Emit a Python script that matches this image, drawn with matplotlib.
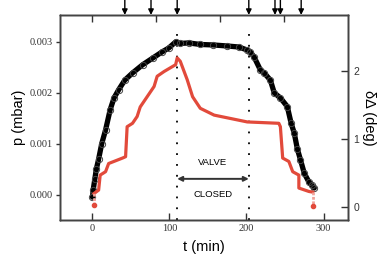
import matplotlib
matplotlib.use("Agg")
import matplotlib.pyplot as plt

# ---- data ----
t_black = [0, 1, 3, 5, 8, 12, 17, 23, 28, 34, 42, 52, 65, 78, 90, 99, 108, 114, 125,
           140, 157, 175, 190, 201, 205, 210, 218, 223, 231, 236, 244, 253, 258, 262,
           266, 270, 275, 281, 285, 288]
p_black = [-0.00005, 0.0001, 0.0003, 0.0005, 0.0007, 0.001, 0.00127, 0.00167, 0.0019,
           0.00206, 0.00225, 0.00239, 0.00255, 0.00268, 0.0028, 0.00288, 0.003, 0.00297,
           0.00298, 0.00295, 0.00294, 0.00292, 0.0029, 0.00284, 0.0028, 0.0027, 0.00245,
           0.00239, 0.00225, 0.002, 0.0019, 0.00173, 0.0014, 0.00121, 0.0009, 0.00069,
           0.00042, 0.00025, 0.00018, 0.00013]

t_red = [2, 8, 10, 17, 21, 39, 43, 45, 52, 58, 62, 71, 80, 84, 93, 108, 110, 114, 123,
         130, 140, 158, 201, 242, 244, 247, 255, 260, 268, 268, 281, 286]
d_red = [0.20, 0.25, 0.47, 0.52, 0.64, 0.72, 0.74, 1.18, 1.23, 1.33, 1.47, 1.62, 1.77,
         1.92, 1.99, 2.09, 2.19, 2.14, 1.87, 1.62, 1.45, 1.35, 1.25, 1.23, 1.18, 0.72,
         0.67, 0.52, 0.47, 0.28, 0.23, 0.22]
t_red_start = [2, 2]
d_red_start = [0.03, 0.20]
t_red_end = [286, 286]
d_red_end = [0.22, 0.02]

arrow_times = [42, 76, 110, 203, 237, 244, 271]
valve_start, valve_end = 110, 203
top_ticks = [0, 83, 166, 249]

serif = ["Liberation Serif", "DejaVu Serif"]
sans = ["Liberation Sans", "DejaVu Sans"]
dark = "#333333"

fig = plt.figure(figsize=(3.83, 2.62), dpi=100)
ax = fig.add_axes([0.157, 0.160, 0.752, 0.783])
ax2 = ax.twinx()
axt = ax.twiny()

ax.set_xlim(-42, 332)
ax.set_ylim(-0.0005, 0.00353)
ax2.set_ylim(-0.19, 2.82)
axt.set_xlim(-42, 332)

# black curve (p)
ax.plot(t_black, p_black, color="black", lw=3.8, zorder=3, solid_capstyle="round")
ax.plot(t_black, p_black, ls="none", marker="o", ms=4.5, mfc="none", mec="#444444",
        mew=0.7, zorder=4)

# red curve (delta)
red = "#e24a3b"
ax2.plot(t_red, d_red, color=red, lw=2.3, zorder=3)
ax2.plot(t_red_start, d_red_start, color="#f1a49c", lw=2.0, ls=(0, (1, 0.6)), zorder=3)
ax2.plot(t_red_end, d_red_end, color="#f1a49c", lw=2.0, ls=(0, (1, 0.6)), zorder=3)
ax2.plot([t_red_start[0]], [d_red_start[0]], "o", color=red, ms=3, zorder=3)
ax2.plot([t_red_end[-1]], [d_red_end[-1]], "o", color=red, ms=3, zorder=3)

# dotted vertical lines
for tv in (valve_start, valve_end):
    ax.plot([tv, tv], [-0.0005, 0.00333], color="black", lw=1.3, ls=(0, (1, 5)), zorder=2)

# valve closed arrow and text
ax.annotate("", xy=(valve_start, 0.00031), xytext=(valve_end, 0.00031),
            arrowprops=dict(arrowstyle="<|-|>", color="#333333", lw=1.4,
                            mutation_scale=7, shrinkA=0, shrinkB=0))
mid = (valve_start + valve_end) / 2
ax.text(mid, 0.00063, "VALVE", ha="center", va="center", fontsize=6.8, family=sans)
ax.text(mid, 0.0, "CLOSED", ha="center", va="center", fontsize=6.8, family=sans)

# arrows on top
for ta in arrow_times:
    ax.annotate("", xy=(ta, 1.0), xycoords=("data", "axes fraction"),
                xytext=(ta, 1.075), textcoords=("data", "axes fraction"),
                arrowprops=dict(arrowstyle="-|>", color="black", lw=1.0,
                                mutation_scale=8, shrinkA=0, shrinkB=0),
                annotation_clip=False)

# ticks
ax.set_xticks([0, 100, 200, 300])
ax.set_yticks([0.0, 0.001, 0.002, 0.003])
ax.set_yticklabels(["0.000", "0.001", "0.002", "0.003"])
ax.tick_params(axis="x", direction="in", length=5, width=1, color=dark, labelsize=7.5,
               labelcolor=dark, pad=3)
ax.tick_params(axis="y", direction="out", length=3, width=1, color=dark, labelsize=7.5,
               labelcolor=dark, pad=2)
for lab in ax.get_xticklabels() + ax.get_yticklabels():
    lab.set_family(serif)

ax2.set_yticks([0, 1, 2])
ax2.tick_params(axis="y", direction="in", length=5, width=1, color=dark, labelsize=7.5,
                labelcolor=dark, pad=4)
for lab in ax2.get_yticklabels():
    lab.set_family(sans)

axt.set_xticks(top_ticks)
axt.set_xticklabels([])
axt.tick_params(axis="x", direction="in", length=5, width=1, color=dark)

for a in (ax, ax2, axt):
    for s in a.spines.values():
        s.set_color("#444444")
        s.set_linewidth(1.0)

ax.set_ylabel("p (mbar)", fontsize=10.5, family=sans, labelpad=3)
ax.set_xlabel("t (min)", fontsize=10.5, family=sans, labelpad=5)
ax2.set_ylabel("δΔ (deg)", fontsize=10.5, family=sans, rotation=270, labelpad=12)

fig.savefig("out.png", dpi=100)
